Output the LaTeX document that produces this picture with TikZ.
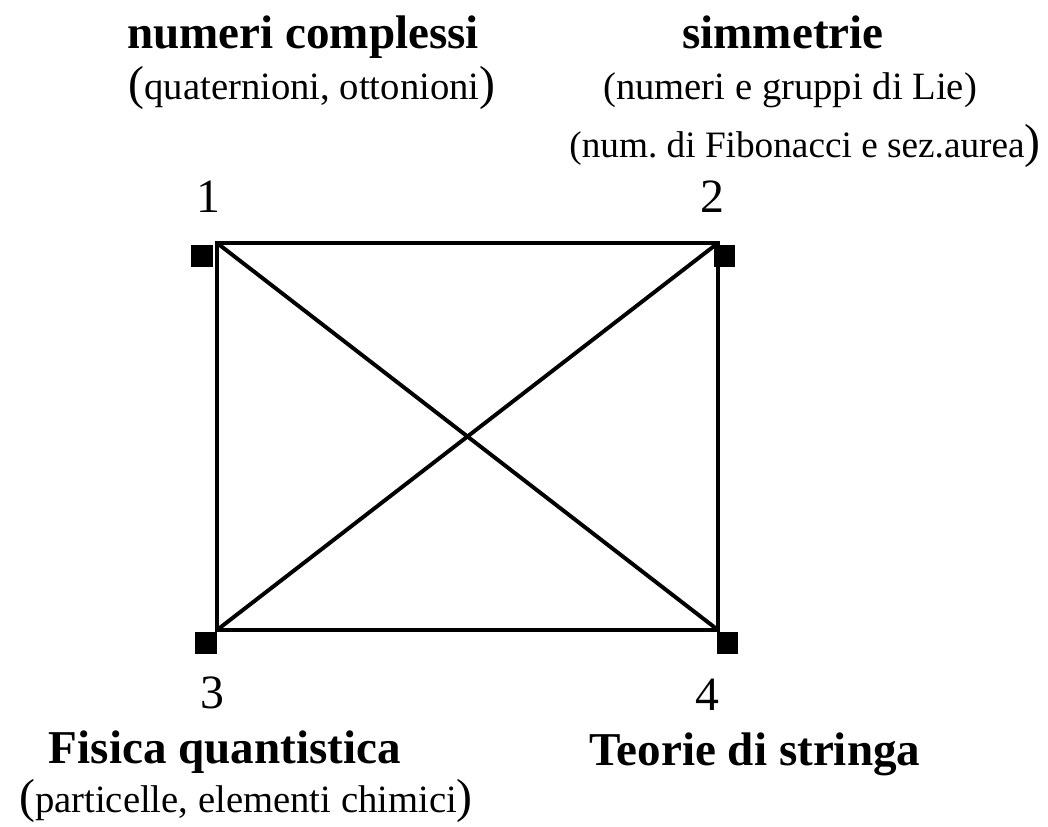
\documentclass[tikz,border=0pt]{standalone}
\usepackage{fontspec}
\setmainfont{Liberation Serif}
\frenchspacing
\newcommand{\pargrande}[1]{{\fontsize{34}{40}\selectfont #1}}
\tikzset{
  titolo/.style={font=\fontsize{33.5}{40}\selectfont\bfseries, anchor=base, inner sep=0pt},
  sottotitolo/.style={font=\fontsize{27.5}{32}\selectfont, anchor=base, inner sep=0pt},
  numero/.style={font=\fontsize{34}{40}\selectfont, anchor=base, inner sep=0pt},
  vertice/.style={fill=black, minimum size=0.525cm, inner sep=0pt},
  lato/.style={line width=2.8pt}
}
\begin{document}
\begin{tikzpicture}[x=0.025cm, y=-0.025cm]
    \useasboundingbox (0,0) rectangle (1048,827);

    % Vertici del rettangolo
    \coordinate (c1) at (217,243);
    \coordinate (c2) at (718,243);
    \coordinate (c3) at (217,630);
    \coordinate (c4) at (718,630);

    % Quadratini neri
    \node[vertice] (q1) at (202,256) {};
    \node[vertice] (q2) at (724,256) {};
    \node[vertice] (q3) at (206,643) {};
    \node[vertice] (q4) at (727,643) {};

    % Lati e diagonali
    \draw[lato] (c1) -- (c2) -- (c4) -- (c3) -- cycle;
    \draw[lato] (c1) -- (c4);
    \draw[lato] (c2) -- (c3);

    % Numeri dei vertici
    \node[numero] (n1) at (208,213) {1};
    \node[numero] (n2) at (712,213) {2};
    \node[numero] (n3) at (212,708) {3};
    \node[numero] (n4) at (707,710) {4};

    % Titoli e sottotitoli
    \node[titolo] (t1) at (303,49) {numeri complessi};
    \node[sottotitolo] (s1) at (312,100) {\pargrande{(}quaternioni, ottonioni\pargrande{)}};

    \node[titolo] (t2) at (783,49) {simmetrie};
    \node[sottotitolo] (s2) at (790,100) {(numeri e gruppi di Lie)};
    \node[sottotitolo, font=\fontsize{26.5}{32}\selectfont] (s2b) at (805,158) {(num. di Fibonacci e sez.aurea\pargrande{)}};

    \node[titolo] (t3) at (225,763) {Fisica quantistica};
    \node[sottotitolo] (s3) at (246,812) {\pargrande{(}particelle, elementi chimici\pargrande{)}};

    \node[titolo] (t4) at (755,765) {Teorie di stringa};
\end{tikzpicture}
\end{document}
